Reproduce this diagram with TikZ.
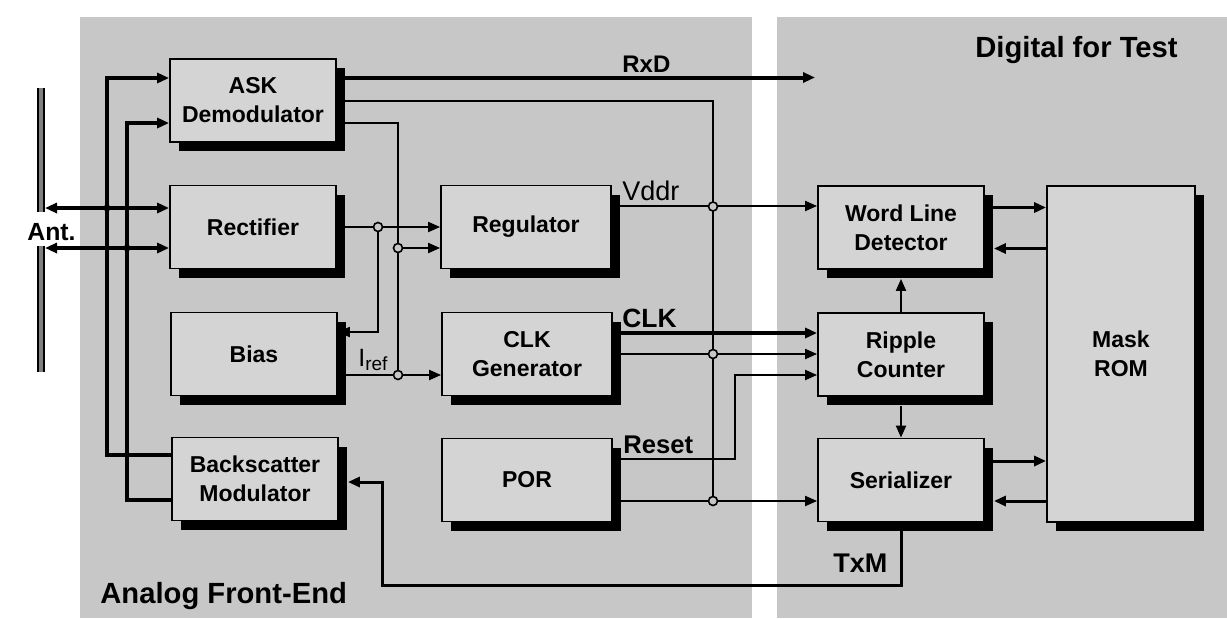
\documentclass[tikz,border=0pt]{standalone}
\usepackage{fontspec}
\setmainfont{Liberation Sans}
\usetikzlibrary{arrows.meta,shadows}
\definecolor{panel}{gray}{0.78}
\definecolor{boxfill}{gray}{0.83}
\tikzset{
  blk/.style={draw=black, line width=0.9pt, fill=boxfill, inner sep=0pt,
    minimum width=83pt, minimum height=41.5pt, align=center,
    font=\bfseries\fontsize{11.5}{14.5}\selectfont,
    general shadow={fill=black, shadow xshift=4.5pt, shadow yshift=-4.5pt}},
  wthick/.style={line width=2pt},
  wmed/.style={line width=1.5pt},
  wthin/.style={line width=1pt},
  arr/.style={-{Triangle[length=6pt,width=5pt]}},
  darr/.style={{Triangle[length=6pt,width=5pt]}-{Triangle[length=6pt,width=5pt]}},
  hc/.style={circle, draw=black, line width=0.8pt, fill=panel, inner sep=0pt, minimum size=4.5pt},
  dot/.style={circle, fill=black, inner sep=0pt, minimum size=3.5pt},
  antenna/.style={line width=1pt, double=black!50, double distance=2pt},
  lab/.style={inner sep=0pt, anchor=base west},
}
\begin{document}
\begin{tikzpicture}[x=0.5pt,y=-0.5pt]
\useasboundingbox (0,0) rectangle (1227,618);
\fill[white] (0,0) rectangle (1227,618);
\fill[panel] (80,17) rectangle (752,618);
\fill[panel] (777,17) rectangle (1227,618);

% blocks
\node[blk] (ASK) at (253,100.5) {ASK\\Demodulator};
\node[blk] (Rect) at (253,227) {Rectifier};
\node[blk] (Bias) at (254,354) {Bias};
\node[blk] (BSM) at (255,479) {Backscatter\\Modulator};
\node[blk, minimum width=85pt] (Reg) at (526,227) {Regulator};
\node[blk, minimum width=85pt] (CLKG) at (527,354) {CLK\\Generator};
\node[blk, minimum width=85pt] (POR) at (527,480) {POR};
\node[blk] (WLD) at (901,227.5) {Word Line\\Detector};
\node[blk] (Rip) at (901,354.5) {Ripple\\Counter};
\node[blk] (Ser) at (901,480) {Serializer};
\node[blk, minimum width=74pt, minimum height=168pt] (ROM) at (1121,354) {Mask\\ROM};

% antenna
\draw[antenna] (41,88) -- (41,212);
\draw[antenna] (41,246) -- (41,372);
\coordinate (antU) at (45,208);
\coordinate (antL) at (45,248);
\draw[wthick,darr] (antU) -- (Rect.west |- antU);
\draw[wthick,darr] (antL) -- (Rect.west |- antL);

% antenna taps to ASK and Backscatter
\coordinate (J1) at (107,208);
\coordinate (J2) at (127,248);
\draw[wthick,arr] (J1) |- ([yshift=11.25pt]ASK.west);
\draw[wthick] (J1) |- ([yshift=12pt]BSM.west);
\draw[wthick,arr] (J2) |- ([yshift=-11.25pt]ASK.west);
\draw[wthick] (J2) |- ([yshift=-10.5pt]BSM.west);
\node[dot] (d1) at (J1) {};
\node[dot] (d2) at (J2) {};

% RxD
\coordinate (rxd) at (815,77.5);
\draw[wthick,arr] ([yshift=11.5pt]ASK.east) -- (rxd);

% ASK second output down to POR line
\coordinate (K4) at (713,501);
\draw[wthin] (ASK.east) -| (K4);

% Iref bus
\coordinate (J3) at (378,227);
\coordinate (J5) at (398,248);
\coordinate (J4) at (398,375);
\draw[wthin] ([yshift=-11pt]ASK.east) -| (J4);
\draw[wthin,arr] (Rect.east) -- (Reg.west);
\draw[wthin,arr] (J3) |- ([yshift=11pt]Bias.east);
\draw[wthin,arr] (J5) -- (Reg.west |- J5);
\draw[wthin,arr] ([yshift=-10.5pt]Bias.east) -- ([yshift=-10.5pt]CLKG.west);

% Vddr
\draw[wthin,arr] ([yshift=10.5pt]Reg.east) -- ([yshift=10.5pt]Reg.east -| WLD.west);
% CLK
\draw[wthick,arr] ([yshift=10.5pt]CLKG.east) -- ([yshift=10.5pt]CLKG.east -| Rip.west);
\draw[wthin,arr] (CLKG.east) -- (CLKG.east -| Rip.west);
% Reset
\coordinate (R1) at (735,375);
\draw[wthin,arr] ([yshift=10.5pt]POR.east) -| (R1) -- (R1 -| Rip.west);
% POR to serializer
\draw[wthin,arr] ([yshift=-10.5pt]POR.east) -- ([yshift=-10.5pt]POR.east -| Ser.west);

% digital side
\draw[wmed,arr] ([yshift=10pt]WLD.east) -- ([yshift=10pt]WLD.east -| ROM.west);
\draw[wmed,arr] ([yshift=-10.5pt]WLD.east -| ROM.west) -- ([yshift=-10.5pt,xshift=4.5pt]WLD.east);
\draw[wthin,arr] (Rip.north) -- ([yshift=-4.5pt]WLD.south);
\draw[wthin,arr] ([yshift=-4.5pt]Rip.south) -- (Ser.north);
\draw[wmed,arr] ([yshift=9.5pt]Ser.east) -- ([yshift=9.5pt]Ser.east -| ROM.west);
\draw[wmed,arr] ([yshift=-10.5pt]Ser.east -| ROM.west) -- ([yshift=-10.5pt,xshift=4.5pt]Ser.east);

% TxM
\coordinate (T1) at (382,585);
\draw[wmed,arr] (Ser.south) |- (T1) |- ([yshift=-1.5pt,xshift=4.5pt]BSM.east);

% junction circles
\node[hc] (c1) at (J3) {};
\node[hc] (c2) at (J5) {};
\node[hc] (c3) at (J4) {};
\node[hc] (c4) at (713,206.5) {};
\node[hc] (c5) at (713,354) {};
\node[hc] (c6) at (713,501) {};

% labels
\node[lab, font=\bfseries\fontsize{12.4}{14}\selectfont] (tAnt) at (27,240) {Ant.};
\node[lab, font=\bfseries\fontsize{12}{14}\selectfont] (tRxD) at (622,72) {RxD};
\node[lab, font=\fontsize{13.5}{14}\selectfont] (tVddr) at (622,200) {Vddr};
\node[lab, font=\bfseries\fontsize{13.2}{14}\selectfont] (tCLK) at (622,327) {CLK};
\node[lab, font=\bfseries\fontsize{12.8}{14}\selectfont] (tReset) at (623,453) {Reset};
\node[lab, font=\bfseries\fontsize{13.5}{14}\selectfont] (tTxM) at (833,572) {TxM};
\node[lab, font=\fontsize{12.5}{14}\selectfont] (tIref) at (358,366) {I\raisebox{-0.35ex}{\fontsize{9.5}{10}\selectfont ref}};
\node[lab, font=\bfseries\fontsize{14.6}{16}\selectfont] (tAFE) at (100,603) {Analog Front-End};
\node[lab, font=\bfseries\fontsize{14.6}{16}\selectfont] (tDFT) at (975,57) {Digital for Test};
\end{tikzpicture}
\end{document}
